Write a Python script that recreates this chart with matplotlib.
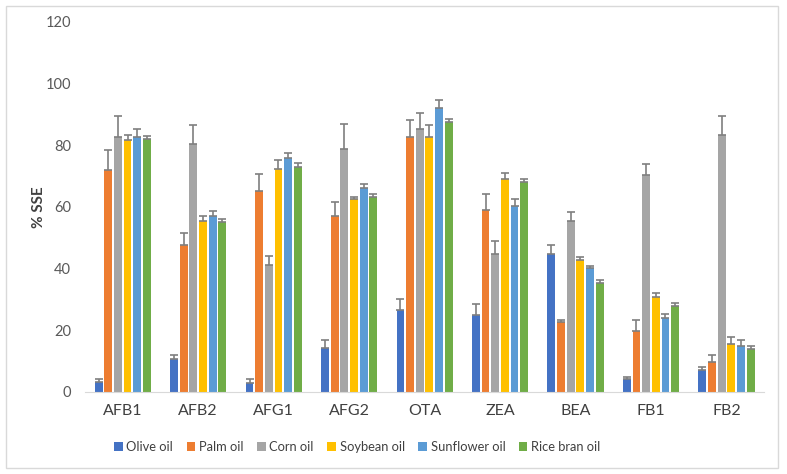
import numpy as np
import matplotlib.pyplot as plt
from matplotlib.patches import Rectangle

plt.rcParams['font.family'] = ['Lato', 'DejaVu Sans']

toxins = ["AFB1", "AFB2", "AFG1", "AFG2", "OTA", "ZEA", "BEA", "FB1", "FB2"]
oils = ["Olive oil", "Palm oil", "Corn oil", "Soybean oil", "Sunflower oil", "Rice bran oil"]
colors = ["#4472C4", "#ED7D31", "#A5A5A5", "#FFC000", "#5B9BD5", "#70AD47"]

# mean % SSE per oil (rows) and toxin (columns)
olive = [3.3, 10.6, 3.0, 14.3, 26.6, 24.8, 44.8, 4.2, 7.0]
palm = [71.8, 47.7, 65.1, 57.1, 82.7, 59.0, 22.7, 19.9, 9.7]
corn = [82.7, 80.4, 41.1, 78.8, 85.2, 44.8, 55.5, 70.2, 83.2]
soybean = [81.6, 55.5, 72.3, 62.4, 82.7, 69.0, 42.7, 30.9, 15.6]
sunflower = [82.6, 57.2, 75.9, 66.0, 92.0, 60.4, 40.2, 24.0, 15.0]
rice_bran = [81.9, 55.2, 73.0, 63.1, 87.4, 68.2, 35.3, 27.8, 14.0]

# standard deviations
olive_sd = [0.8, 1.3, 1.1, 2.5, 3.5, 3.8, 2.8, 0.8, 1.2]
palm_sd = [6.5, 3.9, 5.7, 4.5, 5.6, 5.1, 0.8, 3.5, 2.2]
corn_sd = [6.8, 6.3, 3.1, 8.0, 5.2, 4.3, 2.8, 3.7, 6.4]
soybean_sd = [1.8, 1.4, 2.8, 0.9, 4.0, 2.0, 1.0, 1.3, 2.1]
sunflower_sd = [2.6, 1.6, 1.6, 1.4, 2.8, 2.0, 0.8, 1.2, 1.9]
rice_bran_sd = [1.1, 1.0, 1.1, 1.2, 1.2, 0.9, 1.0, 1.2, 0.9]

means = [olive, palm, corn, soybean, sunflower, rice_bran]
sds = [olive_sd, palm_sd, corn_sd, soybean_sd, sunflower_sd, rice_bran_sd]

fig = plt.figure(figsize=(7.87, 4.74), dpi=100)
ax = fig.add_axes([0.108, 0.173, 0.863, 0.781])

x = np.arange(len(toxins))
slot = 0.128
width = 0.104
for i, (m, s) in enumerate(zip(means, sds)):
    pos = x + (i - 2.5) * slot
    ax.bar(pos, m, width, color=colors[i], label=oils[i], zorder=2)
    ax.errorbar(pos, m, yerr=[np.zeros(len(s)), s], fmt="none", ecolor="#7f7f7f",
                elinewidth=1.2, capsize=2.8, capthick=1.2, zorder=3)

ax.set_xlim(-0.5, len(toxins) - 0.5)
ax.set_ylim(0, 120)
ax.set_yticks(np.arange(0, 121, 20))
ax.set_xticks(x)
ax.set_xticklabels(toxins, fontsize=11.5, color="#404040")
ax.tick_params(axis="y", labelsize=10.5, colors="#595959", length=0, pad=10)
ax.tick_params(axis="x", length=0, pad=9)
for sp in ["top", "right", "left"]:
    ax.spines[sp].set_visible(False)
ax.spines["bottom"].set_color("#d9d9d9")
ax.set_ylabel("% SSE", fontsize=11, fontweight="bold", color="#404040")
ax.yaxis.set_label_coords(-0.058, 0.5)

ax.legend(loc="center", bbox_to_anchor=(0.454, 0.057), bbox_transform=fig.transFigure,
          ncol=6, frameon=False, fontsize=9.3, handlelength=0.65, handleheight=0.65,
          handletextpad=0.3, columnspacing=1.05, labelcolor="#404040")

fig.patches.append(Rectangle((6 / 787, 6 / 474), 772 / 787, 462 / 474, transform=fig.transFigure,
                             fill=False, edgecolor="#d9d9d9", linewidth=1))

fig.savefig("out.png", dpi=100)
